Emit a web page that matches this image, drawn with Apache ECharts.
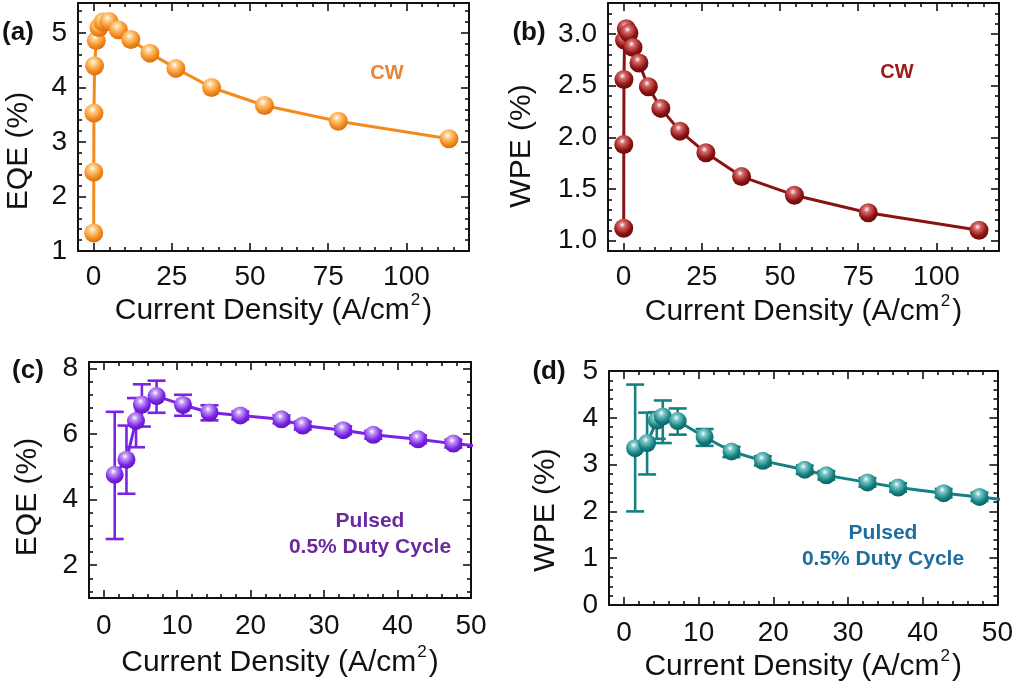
<!DOCTYPE html>
<html><head><meta charset="utf-8">
<script src="https://cdn.jsdelivr.net/npm/echarts@6/dist/echarts.min.js"></script>
<style>html,body{margin:0;padding:0;background:#fff}#c{width:1016px;height:685px}</style>
</head><body><div id="c"></div>
<script>
// ---------- data ----------
const cwCurrent = [0.02, 0.05, 0.1, 0.3, 0.85, 1.7, 3.0, 4.9, 7.9, 11.9, 18.0, 26.3, 37.7, 54.6, 78.2, 113.6];
const cwEQE     = [1.33, 2.45, 3.53, 4.40, 4.86, 5.10, 5.20, 5.21, 5.06, 4.88, 4.63, 4.35, 4.00, 3.67, 3.38, 3.06];
const cwWPE     = [1.12, 1.93, 2.56, 2.94, 3.05, 3.01, 2.87, 2.72, 2.49, 2.28, 2.06, 1.85, 1.62, 1.44, 1.27, 1.10];

const pulsedCurrent  = [1.5, 3.1, 4.4, 5.2, 7.2, 10.8, 14.4, 18.6, 24.2, 27.1, 32.6, 36.7, 42.8, 47.6, 53.5];
const pulsedEQE      = [4.76, 5.22, 6.40, 6.90, 7.16, 6.89, 6.66, 6.57, 6.45, 6.26, 6.12, 5.98, 5.84, 5.71, 5.58];
const pulsedEQELow   = [2.80, 4.18, 5.60, 6.23, 6.65, 6.56, 6.42, 6.45, 6.33, 6.14, 6.00, 5.86, 5.72, 5.59, null];
const pulsedEQEHigh  = [6.68, 6.26, 7.10, 7.52, 7.63, 7.20, 6.88, 6.69, 6.57, 6.38, 6.24, 6.10, 5.96, 5.83, null];
const pulsedWPE      = [3.35, 3.46, 3.94, 4.03, 3.93, 3.59, 3.28, 3.08, 2.89, 2.77, 2.62, 2.51, 2.39, 2.31, 2.20];
const pulsedWPELow   = [2.00, 2.79, 3.55, 3.46, 3.64, 3.40, 3.16, 2.98, 2.80, 2.68, 2.53, 2.42, 2.30, 2.22, null];
const pulsedWPEHigh  = [4.71, 4.11, 4.12, 4.37, 4.20, 3.76, 3.38, 3.18, 2.98, 2.86, 2.71, 2.60, 2.48, 2.40, null];

// tick labels
const xTicksCW     = [0, 25, 50, 75, 100];
const xTicksPulsed = [0, 10, 20, 30, 40, 50];
const yTicksEQEcw  = [1, 2, 3, 4, 5];
const yTicksWPEcw  = [1.0, 1.5, 2.0, 2.5, 3.0];
const yTicksEQEp   = [2, 4, 6, 8];
const yTicksWPEp   = [0, 1, 2, 3, 4, 5];

const xNameText = 'Current Density (A/cm{sup|2})';
const FONT = '"Liberation Sans", Arial, Helvetica, sans-serif';
const INK = '#111';

// ---------- helpers ----------
function minors(min, max, step, majors) {
  const out = [];
  const s = Math.ceil(min / step - 1e-9);
  for (let k = s; k * step <= max + 1e-9; k++) {
    const v = +(k * step).toFixed(6);
    if (!majors.some(m => Math.abs(m - v) < 1e-6)) out.push(v);
  }
  return out;
}
function sphere(light, base, dark) {
  return { type: 'radial', x: 0.42, y: 0.32, r: 0.78,
    colorStops: [{offset: 0, color: '#ffffff'}, {offset: 0.2, color: light},
                 {offset: 0.62, color: base}, {offset: 1, color: dark}] };
}

const xAxes = [], yAxes = [], grids = [], series = [];

function addPanel(cfg) {
  const g = grids.length;
  grids.push(cfg.grid);
  const xi = xAxes.length, yi = yAxes.length;
  const xMin = minors(cfg.xr[0], cfg.xr[1], cfg.xStep, cfg.xMaj);
  const yMin = minors(cfg.yr[0], cfg.yr[1], cfg.yStep, cfg.yMaj);
  const line = { show: true, onZero: false, lineStyle: { color: INK, width: 2 } };
  const noLine = { show: false, onZero: false };
  const baseX = { type: 'value', gridIndex: g, min: cfg.xr[0], max: cfg.xr[1], splitLine: { show: false } };
  const baseY = { type: 'value', gridIndex: g, min: cfg.yr[0], max: cfg.yr[1], splitLine: { show: false } };
  const tick = (vals, len) => ({ show: true, inside: true, length: len, customValues: vals, lineStyle: { color: INK, width: 1.6 } });
  // bottom main
  xAxes.push(Object.assign({}, baseX, {
    position: 'bottom', axisLine: line, axisTick: tick(cfg.xMaj, 8),
    axisLabel: { customValues: cfg.xMaj, fontSize: 28, fontFamily: FONT, color: INK, margin: cfg.xLabMargin },
    name: xNameText, nameLocation: 'middle', nameGap: cfg.xNameGap,
    nameTextStyle: { fontSize: 30, fontFamily: FONT, color: INK,
      rich: { sup: { fontSize: 17, fontFamily: FONT, color: INK, padding: [0, 2, 20, 1] } } }
  }));
  xAxes.push(Object.assign({}, baseX, { position: 'bottom', axisLine: noLine, axisTick: tick(xMin, 4), axisLabel: { show: false } }));
  xAxes.push(Object.assign({}, baseX, { position: 'top', axisLine: line, axisTick: tick(cfg.xMaj, 8), axisLabel: { show: false } }));
  xAxes.push(Object.assign({}, baseX, { position: 'top', axisLine: noLine, axisTick: tick(xMin, 4), axisLabel: { show: false } }));
  // left main
  yAxes.push(Object.assign({}, baseY, {
    position: 'left', axisLine: line, axisTick: tick(cfg.yMaj, 8),
    axisLabel: { customValues: cfg.yMaj, fontSize: 28, fontFamily: FONT, color: INK, margin: 11,
      formatter: cfg.yFmt },
    name: cfg.yName, nameLocation: 'middle', nameGap: cfg.yNameGap,
    nameTextStyle: { fontSize: 30, fontFamily: FONT, color: INK, padding: [0, cfg.yNameShift, 0, 0] }
  }));
  yAxes.push(Object.assign({}, baseY, { position: 'left', axisLine: noLine, axisTick: tick(yMin, 4), axisLabel: { show: false } }));
  yAxes.push(Object.assign({}, baseY, { position: 'right', axisLine: line, axisTick: tick(cfg.yMaj, 8), axisLabel: { show: false } }));
  yAxes.push(Object.assign({}, baseY, { position: 'right', axisLine: noLine, axisTick: tick(yMin, 4), axisLabel: { show: false } }));

  if (cfg.err) {
    const col = cfg.color;
    series.push({
      type: 'custom', xAxisIndex: xi, yAxisIndex: yi, z: 2, clip: true,
      encode: { x: 0, y: [1, 2] },
      data: cfg.x.map((v, i) => [v, cfg.err[0][i], cfg.err[1][i]]).filter(d => d[1] != null),
      renderItem: function (params, api) {
        const x = api.value(0), lo = api.value(1), hi = api.value(2);
        const a = api.coord([x, hi]), b = api.coord([x, lo]);
        const w = 9, st = { stroke: col, lineWidth: 2.6 };
        return { type: 'group', children: [
          { type: 'line', shape: { x1: a[0], y1: a[1], x2: b[0], y2: b[1] }, style: st },
          { type: 'line', shape: { x1: a[0] - w, y1: a[1], x2: a[0] + w, y2: a[1] }, style: st },
          { type: 'line', shape: { x1: b[0] - w, y1: b[1], x2: b[0] + w, y2: b[1] }, style: st }
        ]};
      }
    });
  }
  series.push({
    type: 'line', xAxisIndex: xi, yAxisIndex: yi, z: 3, clip: true,
    data: cfg.x.map((v, i) => [v, cfg.y[i]]),
    symbol: 'circle', symbolSize: cfg.size, showAllSymbol: true,
    lineStyle: { color: cfg.color, width: 3 },
    itemStyle: { color: sphere(cfg.light, cfg.color, cfg.dark), borderWidth: 0 },
    emphasis: { disabled: true }
  });
}

addPanel({ grid: { left: 78, top: 3, width: 391, height: 248 },
  xr: [-5, 120], xMaj: xTicksCW, xStep: 5, yr: [1, 5.55], yMaj: yTicksEQEcw, yStep: 0.2,
  yName: 'EQE (%)', yNameGap: 44, yNameShift: 48, xNameGap: 41, xLabMargin: 12,
  yFmt: v => String(v), size: 19,
  x: cwCurrent, y: cwEQE, color: '#f38a1d', light: '#ffcf8a', dark: '#c8620a' });

addPanel({ grid: { left: 608, top: 3, width: 391, height: 248 },
  xr: [-5, 120], xMaj: xTicksCW, xStep: 5, yr: [0.9, 3.3], yMaj: yTicksWPEcw, yStep: 0.1,
  yName: 'WPE (%)', yNameGap: 71, yNameShift: 38, xNameGap: 42, xLabMargin: 12,
  yFmt: v => Number(v).toFixed(1), size: 19,
  x: cwCurrent, y: cwWPE, color: '#8b1212', light: '#d86a6a', dark: '#5a0606' });

addPanel({ grid: { left: 89, top: 362, width: 382, height: 236 },
  xr: [-2, 50], xMaj: xTicksPulsed, xStep: 2, yr: [1, 8.2], yMaj: yTicksEQEp, yStep: 0.4,
  yName: 'EQE (%)', yNameGap: 46, yNameShift: 34, xNameGap: 46, xLabMargin: 14,
  yFmt: v => String(v), size: 18,
  x: pulsedCurrent, y: pulsedEQE, err: [pulsedEQELow, pulsedEQEHigh],
  color: '#7a22e6', light: '#c39af5', dark: '#4e10a0' });

addPanel({ grid: { left: 609, top: 371, width: 390, height: 234 },
  xr: [-2, 50], xMaj: xTicksPulsed, xStep: 2, yr: [0, 5], yMaj: yTicksWPEp, yStep: 0.2,
  yName: 'WPE (%)', yNameGap: 48, yNameShift: 44, xNameGap: 42, xLabMargin: 14,
  yFmt: v => String(v), size: 18,
  x: pulsedCurrent, y: pulsedWPE, err: [pulsedWPELow, pulsedWPEHigh],
  color: '#158080', light: '#7cc8c8', dark: '#0a5050' });

const txt = (t, x, y, fill, size, bold) => ({ type: 'text', x: x, y: y, z: 10,
  style: { text: t, fill: fill, font: (bold ? 'bold ' : '') + size + 'px ' + FONT, align: 'center', verticalAlign: 'middle' } });

const option = {
  animation: false,
  backgroundColor: '#fff',
  grid: grids, xAxis: xAxes, yAxis: yAxes, series: series,
  graphic: [
    txt('(a)', 18, 33, INK, 26, true),
    txt('(b)', 529, 33, INK, 26, true),
    txt('(c)', 28, 371, INK, 26, true),
    txt('(d)', 549, 372, INK, 26, true),
    txt('CW', 387, 73, '#e8843a', 20, true),
    txt('CW', 897, 72, '#a01a1a', 20, true),
    txt('Pulsed', 370, 521, '#6a2a9c', 21, true),
    txt('0.5% Duty Cycle', 370, 547, '#6a2a9c', 21, true),
    txt('Pulsed', 883, 533, '#1e6e9e', 21, true),
    txt('0.5% Duty Cycle', 883, 559, '#1e6e9e', 21, true)
  ]
};
const chart = echarts.init(document.getElementById('c'), null, { renderer: 'canvas' });
chart.setOption(option);
</script></body></html>
